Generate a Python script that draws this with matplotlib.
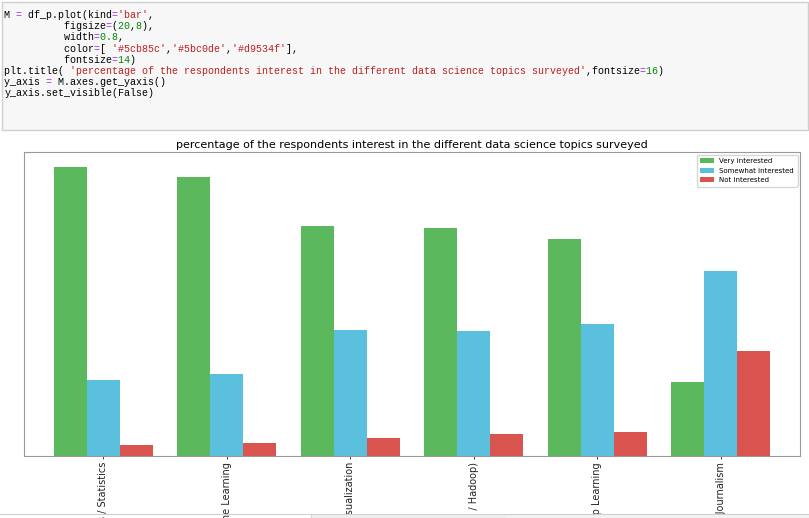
import re
import numpy as np
import matplotlib
matplotlib.use("Agg")
import matplotlib.pyplot as plt
from matplotlib import font_manager
from matplotlib.patches import Rectangle

W, H = 809, 518

# percentages of respondents per topic (sorted by "Very interested")
topics = ["Data Analysis / Statistics", "Machine Learning", "Data Visualization",
          "Big Data (Spark / Hadoop)", "Deep Learning", "Data Journalism"]
very = [75.59, 72.95, 60.01, 59.65, 56.56, 19.21]
somewhat = [19.88, 21.36, 32.87, 32.65, 34.48, 48.41]
not_int = [2.69, 3.31, 4.57, 5.69, 6.09, 27.32]
series_names = ["Very interested", "Somewhat interested", "Not interested"]
colors = ['#5cb85c', '#5bc0de', '#d9534f']

code_lines = [
    "M = df_p.plot(kind='bar',",
    "          figsize=(20,8),",
    "          width=0.8,",
    "          color=[ '#5cb85c','#5bc0de','#d9534f'],",
    "          fontsize=14)",
    "plt.title( 'percentage of the respondents interest in the different data science topics surveyed',fontsize=16)",
    "y_axis = M.axes.get_yaxis()",
    "y_axis.set_visible(False)",
]

fig = plt.figure(figsize=(W / 100, H / 100), dpi=100)
fig.patch.set_facecolor("white")

# notebook code cell
fig.patches.append(Rectangle((2 / W, 1 - 130 / H), 806 / W, 128 / H,
                             transform=fig.transFigure, facecolor="#f7f7f7",
                             edgecolor="#cfcfcf", linewidth=1))

have = {f.name for f in font_manager.fontManager.ttflist}
mono = next(n for n in ["Liberation Mono", "DejaVu Sans Mono"] if n in have)
adv = 0.6 if mono == "Liberation Mono" else 0.602
fs = 5.97 / (100 / 72 * adv)

# highlight: one full-width layer per colour, other chars blanked out
tok_re = re.compile(r"('[^']*')|(\bFalse\b)|(\b\d+(?:\.\d+)?\b)|(=)|([^'=\d]+|.)")
styles = [("#000000", "normal"), ("#ba2121", "normal"), ("#008000", "bold"),
          ("#008800", "normal"), ("#aa22ff", "normal")]
for li, line in enumerate(code_lines):
    layers = [[" "] * len(line) for _ in styles]
    for m in tok_re.finditer(line):
        s, kw, num, op, other = m.groups()
        k = 1 if s else 2 if kw else 3 if num else 4 if op else 0
        for j in range(m.start(), m.end()):
            layers[k][j] = line[j]
    y = 15 + li * 11.2
    for (color, weight), chars in zip(styles, layers):
        txt = "".join(chars).rstrip()
        if txt.strip():
            fig.text(4.5 / W, 1 - y / H, txt, family=mono, fontsize=fs,
                     color=color, weight=weight, va="center", ha="left")

# chart
ax = fig.add_axes([24 / W, (H - 455.7) / H, 776 / W, 303.4 / H])
x = np.arange(len(topics))
bw = 0.8 / 3
for i, (vals, name) in enumerate(zip([very, somewhat, not_int], series_names)):
    ax.bar(x + (i - 1) * bw, vals, bw, color=colors[i], label=name)

ax.set_xlim(-0.64, 5.64)
ax.set_ylim(0, max(very) * 1.05)
ax.set_xticks(x)
ax.set_xticklabels(topics, rotation=90, fontsize=7)
ax.tick_params(axis="x", length=2.2, width=0.6, pad=2.4, colors="#222222")
ax.get_yaxis().set_visible(False)
for sp in ax.spines.values():
    sp.set_color("#999999")
    sp.set_linewidth(0.8)
ax.set_title("percentage of the respondents interest in the different data science topics surveyed",
             fontsize=8, pad=3)
ax.legend(fontsize=5.0, loc="upper right", handlelength=2.0, borderpad=0.5,
          labelspacing=0.5, handletextpad=0.75, borderaxespad=0.35,
          fancybox=True, framealpha=0.8)

# bits of the next notebook row peeking in at the bottom
fig.lines.append(plt.Line2D([0, 1], [1 - 514 / H, 1 - 514 / H], transform=fig.transFigure,
                            color="#d0d0d0", linewidth=0.8))
fig.patches.append(Rectangle((311 / W, 0), (507 - 311) / W, 4 / H, transform=fig.transFigure,
                             facecolor="#eeeeee", edgecolor="#d0d0d0", linewidth=0.6))
fig.patches.append(Rectangle((507 / W, 0), (W - 507) / W, 4 / H, transform=fig.transFigure,
                             facecolor="#f2f2f2", edgecolor="none"))

fig.savefig("out.png", dpi=100)
